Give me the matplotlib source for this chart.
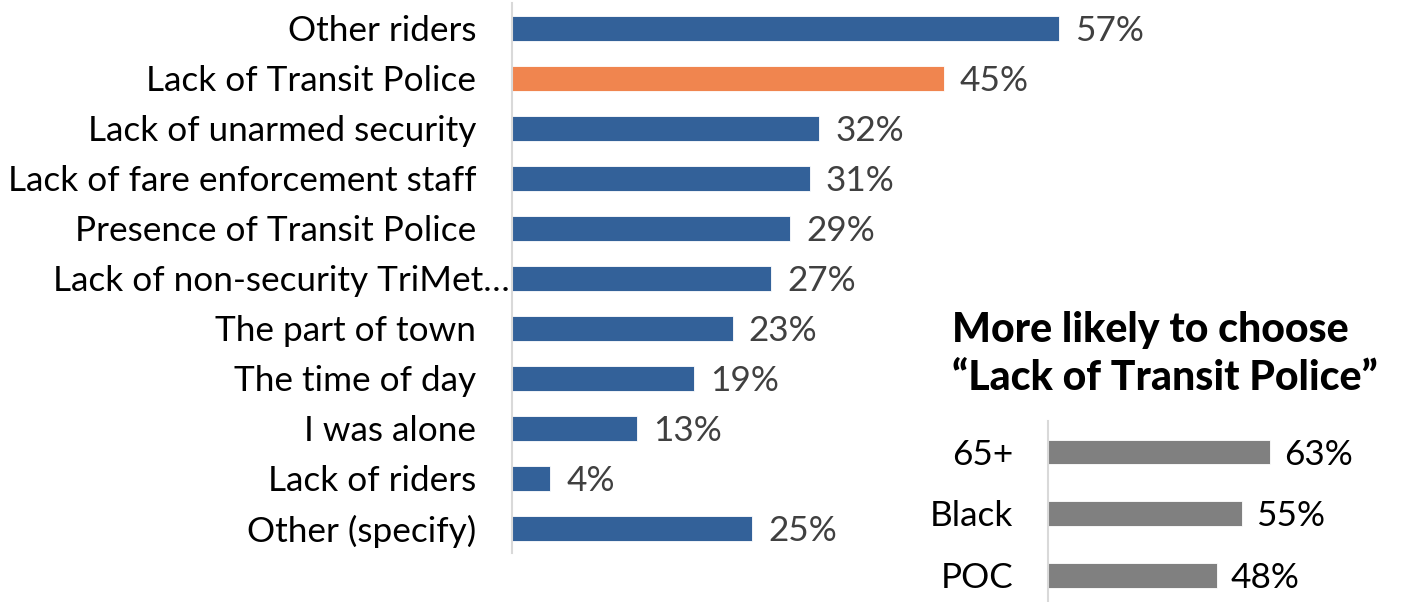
import matplotlib
matplotlib.use('Agg')
import matplotlib.pyplot as plt
import matplotlib.transforms as mtransforms

plt.rcParams['font.family'] = ['Lato', 'DejaVu Sans']

# main chart data
reasons = ['Other riders', 'Lack of Transit Police', 'Lack of unarmed security',
           'Lack of fare enforcement staff', 'Presence of Transit Police',
           'Lack of non-security TriMet\u2026', 'The part of town', 'The time of day',
           'I was alone', 'Lack of riders', 'Other (specify)']
shares = [57, 45, 32, 31, 29, 27, 23, 19, 13, 4, 25]
highlight = 'Lack of Transit Police'

# inset data
groups = ['65+', 'Black', 'POC']
group_shares = [63, 55, 48]

BLUE = '#336199'
ORANGE = '#F0854F'
GRAY = '#808080'
TEXT = '#404040'
AXIS = '#D9D9D9'
FS = 25.3

W, H = 1402, 602
fig = plt.figure(figsize=(W / 100, H / 100), dpi=100)

# main bars
ax = fig.add_axes([512 / W, (H - 553) / H, 624 / W, 550 / H])
ypos = list(range(len(reasons)))
colors = [ORANGE if r == highlight else BLUE for r in reasons]
ax.barh(ypos, shares, height=0.5, color=colors, edgecolor='white', linewidth=0.6)
ax.set_xlim(0, 65)
ax.set_ylim(len(reasons) - 0.5, -0.5)
ax.set_xticks([])
ax.set_yticks([])
for s in ['top', 'right', 'bottom']:
    ax.spines[s].set_visible(False)
ax.spines['left'].set_color(AXIS)
ax.spines['left'].set_linewidth(1.5)

lab_tr = mtransforms.offset_copy(ax.transData, fig=fig, x=-36, y=0, units='dots')
lab_tr_long = mtransforms.offset_copy(ax.transData, fig=fig, x=-2, y=0, units='dots')
val_tr = mtransforms.offset_copy(ax.transData, fig=fig, x=16, y=0, units='dots')
for y, r, v in zip(ypos, reasons, shares):
    tr = lab_tr_long if r.endswith('\u2026') else lab_tr
    ax.text(0, y, r, transform=tr, ha='right', va='center_baseline',
            fontsize=FS, color='black', clip_on=False)
    ax.text(v, y, f'{v}%', transform=val_tr, ha='left', va='center_baseline',
            fontsize=FS, color=TEXT, clip_on=False)

# inset title
fig.text(952 / W, (H - 342) / H, 'More likely to choose', fontsize=29.5,
         fontweight='black', ha='left', va='baseline', color='black')
fig.text(952 / W, (H - 390) / H, '\u201cLack of Transit Police\u201d', fontsize=29.5,
         fontweight='black', ha='left', va='baseline', color='black')

# inset bars
ax2 = fig.add_axes([1048 / W, -4 / H, 352 / W, 185 / H])
gpos = list(range(len(groups)))
ax2.barh(gpos, group_shares, height=0.4, color=GRAY, edgecolor='white', linewidth=0.6)
ax2.set_xlim(0, 100)
ax2.set_ylim(len(groups) - 0.5, -0.5)
ax2.set_xticks([])
ax2.set_yticks([])
for s in ['top', 'right', 'bottom']:
    ax2.spines[s].set_visible(False)
ax2.spines['left'].set_color(AXIS)
ax2.spines['left'].set_linewidth(1.5)
glab_tr = mtransforms.offset_copy(ax2.transData, fig=fig, x=-35, y=0, units='dots')
gval_tr = mtransforms.offset_copy(ax2.transData, fig=fig, x=14, y=0, units='dots')
for y, g, v in zip(gpos, groups, group_shares):
    ax2.text(0, y, g, transform=glab_tr, ha='right', va='center_baseline',
             fontsize=FS, color='black', clip_on=False)
    ax2.text(v, y, f'{v}%', transform=gval_tr, ha='left', va='center_baseline',
             fontsize=FS, color='black', clip_on=False)

fig.savefig('out.png', dpi=100)
